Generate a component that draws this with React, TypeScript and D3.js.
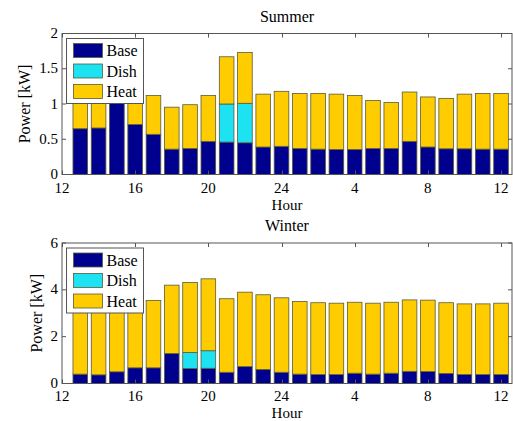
import React, { useEffect, useRef } from "react"
import * as d3 from "d3"

// hours 13..24 then 1..12 of the next day (plotted as 13..36)
const hours = d3.range(13, 37)
const xTicks = [12, 16, 20, 24, 28, 32, 36]
const xTickLabels = ["12", "16", "20", "24", "4", "8", "12"]

const summerBase = [0.65, 0.66, 1.12, 0.71, 0.57, 0.36, 0.37, 0.47, 0.46, 0.45, 0.39, 0.4, 0.37, 0.36, 0.355, 0.355, 0.37, 0.37, 0.47, 0.39, 0.365, 0.365, 0.36, 0.36]
const summerDish = [0, 0, 0, 0, 0, 0, 0, 0, 0.54, 0.56, 0, 0, 0, 0, 0, 0, 0, 0, 0, 0, 0, 0, 0, 0]
const summerHeat = [0.45, 0.44, 0, 0.41, 0.55, 0.595, 0.62, 0.65, 0.67, 0.72, 0.75, 0.78, 0.78, 0.79, 0.785, 0.765, 0.68, 0.65, 0.7, 0.71, 0.715, 0.775, 0.79, 0.79]
const summerTicks = [0, 0.5, 1, 1.5, 2]

const winterBase = [0.4, 0.37, 0.5, 0.67, 0.67, 1.28, 0.64, 0.65, 0.48, 0.72, 0.6, 0.48, 0.4, 0.38, 0.38, 0.44, 0.4, 0.44, 0.52, 0.51, 0.43, 0.38, 0.38, 0.38]
const winterDish = [0, 0, 0, 0, 0, 0, 0.68, 0.75, 0, 0, 0, 0, 0, 0, 0, 0, 0, 0, 0, 0, 0, 0, 0, 0]
const winterHeat = [3.0, 3.03, 2.9, 2.83, 2.88, 2.92, 2.99, 3.07, 3.14, 3.18, 3.19, 3.18, 3.1, 3.07, 3.05, 3.03, 3.03, 3.03, 3.05, 3.05, 3.02, 3.02, 3.02, 3.05]
const winterTicks = [0, 2, 4, 6]

const keys = ["Base", "Dish", "Heat"]
const colors: Record<string, string> = { Base: "#00008f", Dish: "#1de2f2", Heat: "#ffcc00" }

const FONT = "Liberation Serif, DejaVu Serif, serif"

const App = () => {
  const svgRef = useRef<SVGSVGElement>(null)

  useEffect(() => {
    if (!svgRef.current) return
    const svg = d3.select(svgRef.current)
    svg.selectAll("*").remove()

    const left = 62
    const right = 512
    const x = d3.scaleLinear().domain([12, 36.6]).range([left, right])
    const barW = (x(1) - x(0)) * 0.8

    const panels = [
      { title: "Summer", top: 33.5, bottom: 174.5, max: 2, ticks: summerTicks, base: summerBase, dish: summerDish, heat: summerHeat, ylabX: 25, tickOff: 18, hourOff: 35 },
      { title: "Winter", top: 243, bottom: 383.5, max: 6, ticks: winterTicks, base: winterBase, dish: winterDish, heat: winterHeat, ylabX: 37, tickOff: 17.5, hourOff: 34.2 },
    ]

    panels.forEach((p) => {
      const y = d3.scaleLinear().domain([0, p.max]).range([p.bottom, p.top])
      const g = svg.append("g").attr("font-family", FONT).attr("font-size", 16)

      const rows = hours.map((h, i) => ({ hour: h, Base: p.base[i], Dish: p.dish[i], Heat: p.heat[i] }))
      const series = d3.stack<any>().keys(keys)(rows)

      series.forEach((s) => {
        g.append("g")
          .selectAll("rect")
          .data(s.filter((d) => d[1] - d[0] > 0))
          .enter()
          .append("rect")
          .attr("x", (d) => x(d.data.hour) - barW / 2)
          .attr("width", barW)
          .attr("y", (d) => y(d[1]))
          .attr("height", (d) => y(d[0]) - y(d[1]))
          .attr("fill", colors[s.key])
          .attr("stroke", "#5a5a3a")
          .attr("stroke-width", 0.8)
      })

      // axes box
      g.append("rect")
        .attr("x", left)
        .attr("y", p.top)
        .attr("width", right - left)
        .attr("height", p.bottom - p.top)
        .attr("fill", "none")
        .attr("stroke", "#555")
        .attr("stroke-width", 1)

      // x ticks (inside, top and bottom)
      xTicks.forEach((t, i) => {
        const xx = Math.round(x(t)) + 0.5
        g.append("line").attr("x1", xx).attr("x2", xx).attr("y1", p.bottom).attr("y2", p.bottom - 4).attr("stroke", "#555")
        g.append("line").attr("x1", xx).attr("x2", xx).attr("y1", p.top).attr("y2", p.top + 4).attr("stroke", "#555")
        g.append("text")
          .attr("x", x(t))
          .attr("y", p.bottom + p.tickOff)
          .attr("text-anchor", "middle")
          .attr("font-size", 15)
          .text(xTickLabels[i])
      })

      // y ticks
      p.ticks.forEach((t) => {
        const yy = y(t)
        g.append("line").attr("x1", left).attr("x2", left + 4).attr("y1", yy).attr("y2", yy).attr("stroke", "#555")
        g.append("line").attr("x1", right).attr("x2", right - 4).attr("y1", yy).attr("y2", yy).attr("stroke", "#555")
        g.append("text")
          .attr("x", 58)
          .attr("y", yy)
          .attr("dy", "0.3em")
          .attr("text-anchor", "end")
          .attr("font-size", 15)
          .text(String(t))
      })

      g.append("text")
        .attr("x", (left + right) / 2)
        .attr("y", p.top - 12)
        .attr("text-anchor", "middle")
        .text(p.title)

      g.append("text")
        .attr("x", (left + right) / 2)
        .attr("y", p.bottom + p.hourOff)
        .attr("text-anchor", "middle")
        .attr("font-size", 15)
        .text("Hour")

      g.append("text")
        .attr("transform", `translate(${p.ylabX}, ${(p.top + p.bottom) / 2}) rotate(-90)`)
        .attr("dy", "0.33em")
        .attr("text-anchor", "middle")
        .text("Power [kW]")

      // legend
      const lx = left + 4.5
      const ly = p.top + 5
      const lg = g.append("g").attr("transform", `translate(${lx}, ${ly})`)
      lg.append("rect")
        .attr("width", 77)
        .attr("height", 65)
        .attr("fill", "white")
        .attr("stroke", "#555")
        .attr("stroke-width", 1)
      keys.forEach((k, i) => {
        const cy = 12 + i * 20.5
        lg.append("rect")
          .attr("x", 7)
          .attr("y", cy - 7)
          .attr("width", 29)
          .attr("height", 14)
          .attr("fill", colors[k])
          .attr("stroke", "#5a5a3a")
          .attr("stroke-width", 0.8)
        lg.append("text")
          .attr("x", 40)
          .attr("y", cy)
          .attr("dy", "0.35em")
          .text(k)
      })
    })
  }, [])

  return (
    <svg
      ref={svgRef}
      width={513}
      height={421}
      style={{ position: "absolute", left: 0, top: 0, background: "white" }}
    ></svg>
  )
}

export default App
